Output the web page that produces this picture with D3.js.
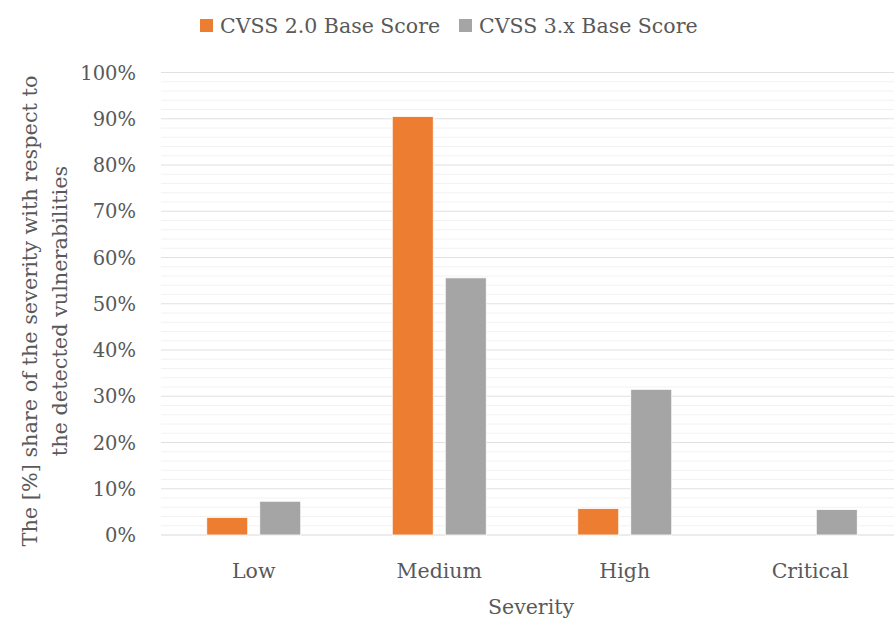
<!DOCTYPE html>
<html>
<head>
<meta charset="utf-8">
<script src="https://cdn.jsdelivr.net/npm/d3@7"></script>
<style>
  body { margin: 0; background: #fff; }
  text { font-family: "DejaVu Serif", serif; fill: #595959; }
</style>
</head>
<body>
<script>
const width = 894;
const height = 620;

// data
const categories = ["Low", "Medium", "High", "Critical"];
const seriesNames = ["CVSS 2.0 Base Score", "CVSS 3.x Base Score"];
const cvss2 = [3.8, 90.5, 5.7, 0];
const cvss3 = [7.3, 55.6, 31.5, 5.5];
const yTicks = [0, 10, 20, 30, 40, 50, 60, 70, 80, 90, 100];
const colors = ["#ED7D31", "#A5A5A5"];

const margin = {left: 161, right: -9, top: 72.5, bottom: 85};

const svg = d3.select("body").append("svg")
  .attr("width", width)
  .attr("height", height);

const x = d3.scaleBand()
  .domain(categories)
  .range([margin.left, width - margin.right]);

const y = d3.scaleLinear()
  .domain([0, 100])
  .range([height - margin.bottom, margin.top]);

// minor grid every 2%
const minor = d3.range(2, 100, 2).filter(d => d % 10 !== 0);
svg.selectAll(".minor")
  .data(minor)
  .enter()
  .append("line")
  .attr("x1", margin.left)
  .attr("x2", width)
  .attr("y1", d => y(d))
  .attr("y2", d => y(d))
  .attr("stroke", "#f2f2f2")
  .attr("stroke-width", 1);

svg.selectAll(".major")
  .data(yTicks)
  .enter()
  .append("line")
  .attr("x1", margin.left)
  .attr("x2", width)
  .attr("y1", d => y(d))
  .attr("y2", d => y(d))
  .attr("stroke", d => d === 0 ? "#d9d9d9" : "#e0e0e0")
  .attr("stroke-width", 1.2);

// y tick labels
svg.selectAll(".ytick")
  .data(yTicks)
  .enter()
  .append("text")
  .attr("x", 136)
  .attr("y", d => y(d))
  .attr("dy", "0.36em")
  .attr("text-anchor", "end")
  .attr("font-size", 19.5)
  .text(d => d + "%");

// bars
const barW = 41;
const gap = 12;
const series = [cvss2, cvss3];
series.forEach((vals, s) => {
  svg.selectAll(".bar" + s)
    .data(vals.map((v, i) => ({cat: categories[i], v: v})).filter(d => d.v > 0))
    .enter()
    .append("rect")
    .attr("x", d => x(d.cat) + x.bandwidth() / 2 - gap / 2 - barW + s * (barW + gap))
    .attr("y", d => y(d.v))
    .attr("width", barW)
    .attr("height", d => y(0) - y(d.v))
    .attr("fill", colors[s])
    .attr("stroke", "#fff")
    .attr("stroke-width", 0.8);
});

// x labels
svg.selectAll(".xlab")
  .data(categories)
  .enter()
  .append("text")
  .attr("x", d => x(d) + x.bandwidth() / 2)
  .attr("y", 578)
  .attr("text-anchor", "middle")
  .attr("font-size", 20.5)
  .text(d => d);

svg.append("text")
  .attr("x", 531)
  .attr("y", 614)
  .attr("text-anchor", "middle")
  .attr("font-size", 20.5)
  .text("Severity");

// y title
const yt = svg.append("text")
  .attr("transform", "translate(0,311) rotate(-90)")
  .attr("text-anchor", "middle")
  .attr("font-size", 20.8);
yt.append("tspan").attr("x", 0).attr("y", 37).text("The [%] share of the severity with respect to");
yt.append("tspan").attr("x", 0).attr("y", 67).text("the detected vulnerabilities");

// legend
const legend = svg.selectAll(".legend")
  .data(seriesNames)
  .enter()
  .append("g")
  .attr("transform", (d, i) => `translate(${i === 0 ? 200 : 459}, 0)`);
legend.append("rect")
  .attr("x", 0)
  .attr("y", 19)
  .attr("width", 13)
  .attr("height", 13)
  .attr("fill", (d, i) => colors[i]);
legend.append("text")
  .attr("x", 20)
  .attr("y", 33)
  .attr("font-size", 20.5)
  .text(d => d);
</script>
</body>
</html>
